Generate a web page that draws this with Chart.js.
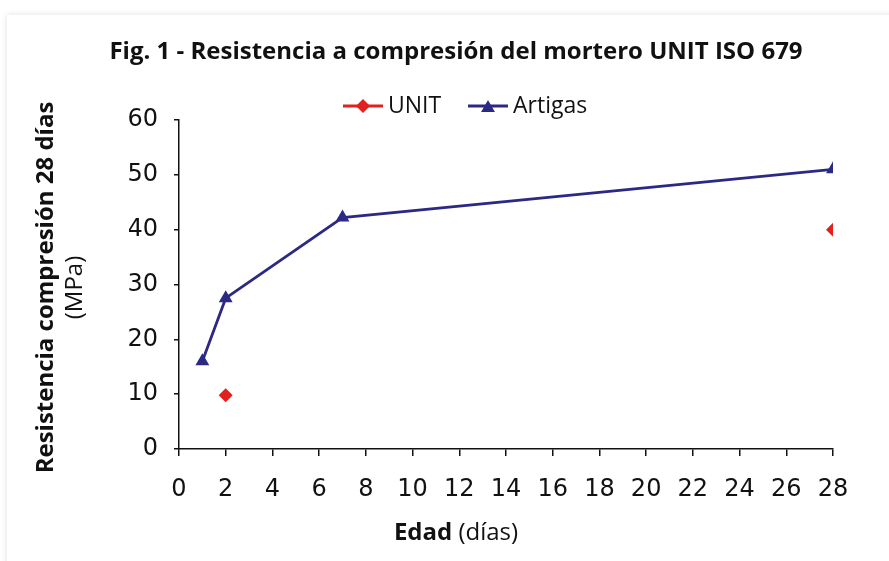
<!DOCTYPE html>
<html lang="es">
<head>
<meta charset="utf-8">
<title>Resistencia a compresión</title>
<script src="https://cdn.jsdelivr.net/npm/chart.js@4.4.1/dist/chart.umd.min.js"></script>
<style>
  html, body { margin: 0; padding: 0; background: #fff; }
  #card {
    position: absolute; left: 7px; top: 15px; width: 900px; height: 560px;
    background: #fff; box-shadow: 0 0 6px rgba(0, 0, 0, 0.13);
  }
  #chart { position: absolute; left: 0; top: 0; }
</style>
</head>
<body>
<div id="card"></div>
<canvas id="chart" width="889" height="561"></canvas>
<script>
'use strict';

// data
let edadUnit = [2, 28];
let resistenciaUnit = [9.8, 40];

let edadArtigas = [1, 2, 7, 28];
let resistenciaArtigas = [16, 27.5, 42.2, 51];

let seriesNames = ['UNIT', 'Artigas'];
let xTickRange = [0, 28, 2];
let yTickRange = [0, 60, 10];

let titleText = 'Fig. 1 - Resistencia a compresión del mortero UNIT ISO 679';

let red = '#e2211f';
let navy = '#2c2985';
let tickFont = '"DejaVu Sans", sans-serif';
let textFont = '"Open Sans", sans-serif';

function toPoints(xs, ys) {
  let pts = [];
  for (let i = 0; i < xs.length; i++) {
    pts.push({ x: xs[i], y: ys[i] });
  }
  return pts;
}

// draws the title, legend and the two axis titles (mixed bold / normal)
let textPlugin = {
  id: 'textPlugin',
  afterDraw(chart) {
    let ctx = chart.ctx;
    let area = chart.chartArea;
    ctx.save();
    ctx.fillStyle = '#111';
    ctx.textBaseline = 'middle';

    // title
    ctx.font = 'bold 24px ' + textFont;
    ctx.textAlign = 'center';
    ctx.fillText(titleText, 456, area.top - 68);

    // legend
    let legendY = area.top - 14;
    let items = [
      { name: seriesNames[0], color: red, style: 'rectRot', radius: 7, x: 343 },
      { name: seriesNames[1], color: navy, style: 'triangle', radius: 8, x: 468 }
    ];
    ctx.font = '23px ' + textFont;
    ctx.textAlign = 'left';
    items.forEach(function (it) {
      ctx.strokeStyle = it.color;
      ctx.lineWidth = 2.8;
      ctx.beginPath();
      ctx.moveTo(it.x, legendY);
      ctx.lineTo(it.x + 40, legendY);
      ctx.stroke();
      ctx.fillStyle = it.color;
      Chart.helpers.drawPoint(ctx, { pointStyle: it.style, radius: it.radius, borderWidth: 0 }, it.x + 20, legendY + (it.style === 'triangle' ? 2 : 0));
      ctx.fillStyle = '#111';
      ctx.fillText(it.name, it.x + 45, legendY);
    });

    // x title: "Edad" bold + " (días)"
    let xTitleY = area.bottom + 84;
    ctx.font = 'bold 24px ' + textFont;
    let w1 = ctx.measureText('Edad').width;
    ctx.font = '24px ' + textFont;
    let w2 = ctx.measureText(' (días)').width;
    let startX = 456 - (w1 + w2) / 2;
    ctx.font = 'bold 24px ' + textFont;
    ctx.fillText('Edad', startX, xTitleY);
    ctx.font = '24px ' + textFont;
    ctx.fillText(' (días)', startX + w1, xTitleY);

    // y title, two lines
    let midY = (area.top + area.bottom) / 2 + 3;
    ctx.textAlign = 'center';
    ctx.translate(area.left - 133, midY);
    ctx.rotate(-Math.PI / 2);
    ctx.font = 'bold 24px ' + textFont;
    ctx.fillText('Resistencia compresión 28 días', 0, 0);
    ctx.font = '24px ' + textFont;
    ctx.fillText('(MPa)', 0, 29);
    ctx.restore();
  }
};

let ctx = document.getElementById('chart');

let chartObject = {
  type: 'scatter',
  data: {
    datasets: [{
      label: seriesNames[0],
      data: toPoints(edadUnit, resistenciaUnit),
      showLine: false,
      pointStyle: 'rectRot',
      pointRadius: 7,
      backgroundColor: red,
      borderColor: red,
      borderWidth: 0
    },
    {
      label: seriesNames[1],
      data: toPoints(edadArtigas, resistenciaArtigas),
      showLine: true,
      pointStyle: 'triangle',
      pointRadius: 8,
      backgroundColor: navy,
      borderColor: navy,
      pointBorderWidth: 0,
      borderWidth: 2.8
    }]
  },
  options: {
    responsive: false,
    animation: false,
    layout: {
      padding: { left: 129, right: 56, top: 120, bottom: 62 }
    },
    plugins: {
      legend: { display: false },
      tooltip: { enabled: false }
    },
    scales: {
      x: {
        type: 'linear',
        min: xTickRange[0],
        max: xTickRange[1],
        afterFit: function (scale) { scale.height = 50; },
        ticks: {
          stepSize: xTickRange[2],
          color: '#111',
          padding: 19,
          font: { family: tickFont, size: 24 }
        },
        grid: { drawOnChartArea: false, color: '#111', lineWidth: 1.5, tickLength: 7 },
        border: { color: '#111', width: 1.5 }
      },
      y: {
        min: yTickRange[0],
        max: yTickRange[1],
        afterFit: function (scale) { scale.width = 50; },
        ticks: {
          stepSize: yTickRange[2],
          color: '#111',
          padding: 16,
          font: { family: tickFont, size: 24 }
        },
        grid: { drawOnChartArea: false, color: '#111', lineWidth: 1.5, tickLength: 5 },
        border: { color: '#111', width: 1.5 }
      }
    }
  },
  plugins: [textPlugin]
};

const resistenciaChart = new Chart(ctx, chartObject);
</script>
</body>
</html>
